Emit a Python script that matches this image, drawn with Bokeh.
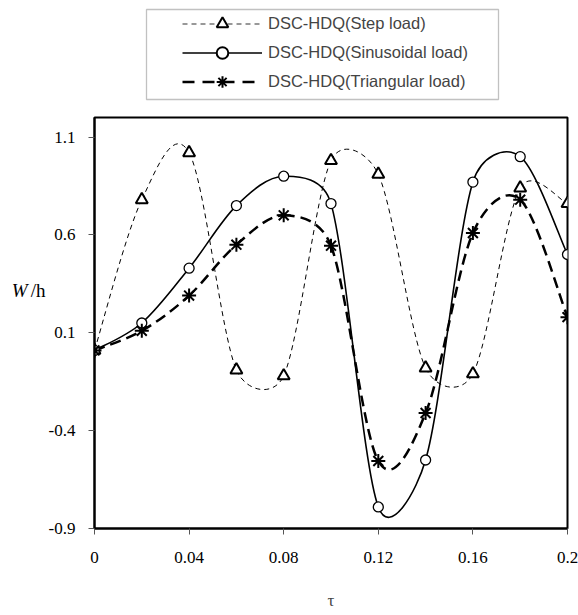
import numpy as np
from bokeh.plotting import figure
from bokeh.layouts import column
from bokeh.models import (Range1d, FixedTicker, Legend, LegendItem, BoxAnnotation,
                          LinearAxis)
from bokeh.embed import file_html
from bokeh.resources import INLINE

# ---------------- data ----------------
tau = [0.0, 0.02, 0.04, 0.06, 0.08, 0.10, 0.12, 0.14, 0.16, 0.18, 0.20]
step_load = [0.01, 0.78, 1.02, -0.09, -0.12, 0.98, 0.91, -0.08, -0.11, 0.84, 0.76]
sinusoidal_load = [0.01, 0.15, 0.43, 0.75, 0.90, 0.76, -0.79, -0.55, 0.87, 1.00, 0.50]
triangular_load = [0.01, 0.11, 0.29, 0.55, 0.70, 0.545, -0.555, -0.31, 0.61, 0.78, 0.18]
series_names = ["DSC-HDQ(Step load)", "DSC-HDQ(Sinusoidal load)", "DSC-HDQ(Triangular load)"]
x_ticks = [0, 0.04, 0.08, 0.12, 0.16, 0.2]
x_tick_labels = ["0", "0.04", "0.08", "0.12", "0.16", "0.2"]
y_ticks = [-0.9, -0.4, 0.1, 0.6, 1.1]
y_tick_labels = ["-0.9", "-0.4", "0.1", "0.6", "1.1"]

X_MIN, X_MAX = 0.0, 0.2
Y_MIN, Y_MAX = -0.9, 1.2
FRAME_W, FRAME_H = 473, 411


def smooth_segments(xs, ys):
    """Bezier control points of an Excel-style 'smoothed line' through the points
    (computed in screen proportions)."""
    kx = FRAME_W / (X_MAX - X_MIN)
    ky = FRAME_H / (Y_MAX - Y_MIN)
    P = np.column_stack([np.asarray(xs, float) * kx, np.asarray(ys, float) * ky])
    n = len(P)
    c_out = np.zeros_like(P)
    c_in = np.zeros_like(P)
    for i in range(n):
        p0 = P[max(i - 1, 0)]
        p1 = P[i]
        p2 = P[min(i + 1, n - 1)]
        t = p2 - p0
        d01 = np.hypot(*(p1 - p0))
        d12 = np.hypot(*(p2 - p1))
        d02 = np.hypot(*t)
        f_out = f_in = 1.0 / 6.0
        if d02 > 0:
            if d12 > 0 and d02 / 6 > d12 / 2:
                f_out = (d12 / 2) / d02
            if d01 > 0 and d02 / 6 > d01 / 2:
                f_in = (d01 / 2) / d02
        c_out[i] = p1 + f_out * t
        c_in[i] = p1 - f_in * t
    return dict(
        x0=P[:-1, 0] / kx, y0=P[:-1, 1] / ky, x1=P[1:, 0] / kx, y1=P[1:, 1] / ky,
        cx0=c_out[:-1, 0] / kx, cy0=c_out[:-1, 1] / ky,
        cx1=c_in[1:, 0] / kx, cy1=c_in[1:, 1] / ky,
    )


# ---------------- main chart ----------------
p = figure(width=578, height=505,
           x_range=Range1d(X_MIN, X_MAX), y_range=Range1d(Y_MIN, Y_MAX),
           output_backend="svg", toolbar_location=None,
           min_border_left=94, min_border_right=11,
           min_border_top=7, min_border_bottom=87)
p.grid.visible = False
p.outline_line_color = "black"
p.outline_line_width = 2
p.background_fill_color = "white"
p.border_fill_color = "white"

for ax in (p.xaxis[0], p.yaxis[0]):
    ax.axis_line_color = "black"
    ax.axis_line_width = 2
    ax.major_tick_in = 0
    ax.major_tick_out = 6
    ax.major_tick_line_color = "#555555"
    ax.major_tick_line_width = 1
    ax.minor_tick_line_color = None
    ax.major_label_text_font = "Liberation Serif"
    ax.major_label_text_font_size = "17px"
    ax.major_label_text_color = "black"

p.xaxis.ticker = FixedTicker(ticks=x_ticks)
p.xaxis.major_label_overrides = {t: s for t, s in zip(x_ticks, x_tick_labels)}
p.xaxis.major_label_standoff = 17
p.xaxis.axis_label = "τ"
p.xaxis.axis_label_text_font = "Liberation Serif"
p.xaxis.axis_label_text_font_style = "normal"
p.xaxis.axis_label_text_font_size = "17px"
p.xaxis.axis_label_standoff = 25

p.yaxis.ticker = FixedTicker(ticks=y_ticks)
p.yaxis.major_label_overrides = {t: s for t, s in zip(y_ticks, y_tick_labels)}
p.yaxis.major_label_standoff = 13


def title_axis(text, style):
    # a tick-less axis that only carries one part of the y title;
    # the blank second line lifts the text above the frame centre
    return LinearAxis(ticker=FixedTicker(ticks=[]),
                      axis_label=text + "\n ", axis_label_orientation="horizontal",
                      axis_label_standoff=0, axis_label_text_font="Liberation Serif",
                      axis_label_text_font_style=style, axis_label_text_font_size="19px",
                      axis_label_text_color="black", axis_label_text_line_height=3.1,
                      axis_line_color=None, major_tick_line_color=None,
                      minor_tick_line_color=None, major_tick_out=0, major_tick_in=0,
                      minor_tick_out=0, major_label_standoff=0)


p.add_layout(title_axis("/h", "normal"), "left")
p.add_layout(title_axis("W", "italic"), "left")

# curves
for ys, kw in ((step_load, dict(line_width=1, line_dash="5 4")),
               (sinusoidal_load, dict(line_width=1.6)),
               (triangular_load, dict(line_width=2.5, line_dash="11 6"))):
    seg = smooth_segments(tau, ys)
    p.bezier(source=seg, x0="x0", y0="y0", x1="x1", y1="y1", cx0="cx0", cy0="cy0",
             cx1="cx1", cy1="cy1", line_color="black", **kw)

# markers
p.scatter(tau, step_load, marker="triangle", size=12, line_color="black",
          line_width=2, fill_color="white")
p.scatter(tau, sinusoidal_load, marker="circle", size=10, line_color="black",
          line_width=1.3, fill_color="white")
p.scatter(tau, triangular_load, marker="asterisk", size=14, line_color="black",
          line_width=2)

# ---------------- legend strip above (its frame is aligned with the chart's) ----------------
lg = figure(width=578, height=110, x_range=Range1d(94, 567), y_range=Range1d(0, 110),
            output_backend="svg", toolbar_location=None,
            min_border_left=94, min_border_right=11, min_border_top=0, min_border_bottom=0,
            x_axis_type=None, y_axis_type=None)
lg.grid.visible = False
lg.outline_line_color = None
lg.background_fill_color = "white"
lg.border_fill_color = "white"

nan = [np.nan]
l1 = lg.line(x=nan, y=nan, line_color="#777777", line_width=1.5, line_dash="5 4")
m1 = lg.scatter(x=nan, y=nan, marker="triangle", size=8, line_color="black", line_width=2, fill_color="white")
l2 = lg.line(x=nan, y=nan, line_color="black", line_width=1.5)
m2 = lg.scatter(x=nan, y=nan, marker="circle", size=6, line_color="black", line_width=2, fill_color="white")
l3 = lg.line(x=nan, y=nan, line_color="black", line_width=2.5, line_dash="12 8")
m3 = lg.scatter(x=nan, y=nan, marker="asterisk", size=9, line_color="black", line_width=2)

legend = Legend(items=[LegendItem(label=series_names[0], renderers=[l1, m1]),
                       LegendItem(label=series_names[1], renderers=[l2, m2]),
                       LegendItem(label=series_names[2], renderers=[l3, m3])],
                location=(88, 14), padding=0, spacing=0, margin=0,
                glyph_width=80, glyph_height=29, label_standoff=6,
                label_text_font="Liberation Sans", label_text_font_size="16.5px",
                border_line_color=None, background_fill_alpha=0)
lg.add_layout(legend)
lg.add_layout(BoxAnnotation(left=146, right=498, bottom=11, top=101,
                            fill_alpha=0, line_color="#333333", line_width=1.3))

layout = column(lg, p, spacing=0)
open("out.html", "w").write(file_html(layout, INLINE))
